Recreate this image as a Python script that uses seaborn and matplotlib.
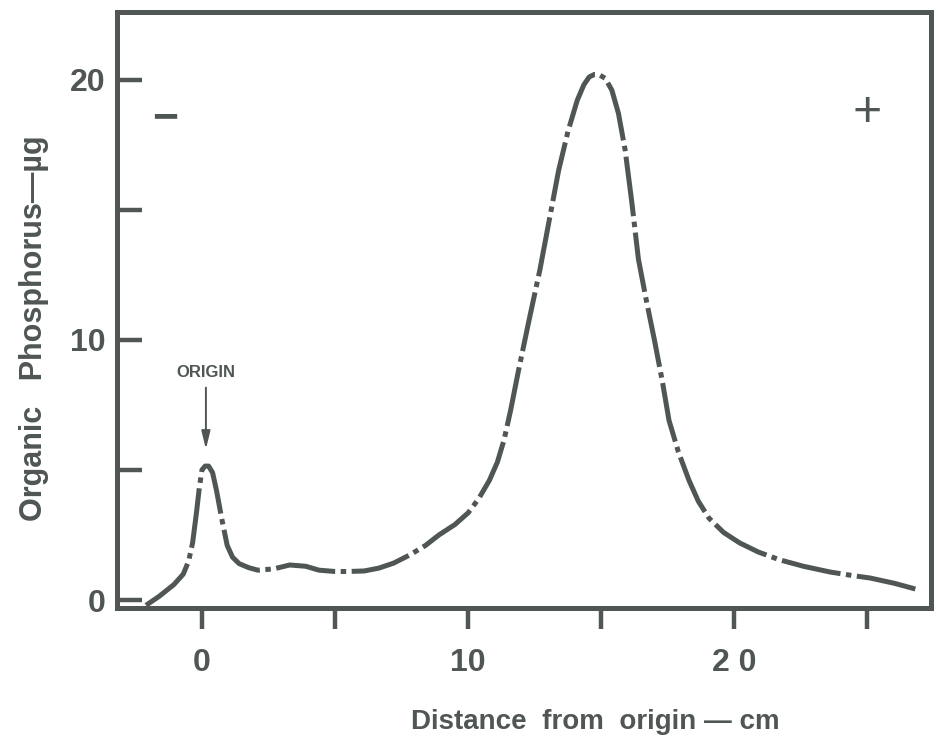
import matplotlib
matplotlib.use("Agg")
import matplotlib.pyplot as plt
import seaborn as sns

# values
distance_cm = [-2.1, -1.6, -1.05, -0.7, -0.5, -0.35, -0.2, -0.1, 0.0, 0.12, 0.25, 0.4,
               0.55, 0.75, 0.95, 1.15, 1.4, 1.75, 2.1, 2.7, 3.3, 3.9, 4.4, 5.0, 5.5,
               6.1, 6.65, 7.2, 7.8, 8.4, 8.9, 9.5, 10.0, 10.4, 10.8, 11.1, 11.35, 11.6,
               11.9, 12.3, 12.7, 13.05, 13.4, 13.75, 14.1, 14.35, 14.55, 14.75, 14.9,
               15.15, 15.4, 15.65, 15.9, 16.15, 16.4, 16.7, 17.0, 17.3, 17.55, 17.9,
               18.3, 18.65, 19.05, 19.6, 20.2, 20.9, 21.7, 22.6, 23.6, 24.4, 25.1,
               26.0, 26.9]
phosphorus_ug = [-0.2, 0.15, 0.6, 1.0, 1.5, 2.2, 3.4, 4.3, 5.0, 5.15, 5.15, 4.9,
                 4.2, 3.1, 2.1, 1.65, 1.4, 1.25, 1.15, 1.2, 1.35, 1.3, 1.15, 1.1, 1.1,
                 1.12, 1.23, 1.42, 1.73, 2.1, 2.5, 2.9, 3.35, 3.9, 4.6, 5.3, 6.15, 7.3,
                 8.85, 10.8, 12.7, 14.6, 16.5, 18.0, 19.2, 19.8, 20.1, 20.2, 20.2,
                 20.05, 19.6, 18.7, 17.3, 15.3, 13.1, 11.5, 10.0, 8.4, 6.9, 5.7,
                 4.6, 3.8, 3.15, 2.6, 2.2, 1.85, 1.55, 1.3, 1.08, 0.95, 0.85,
                 0.65, 0.4]

x_major = [0, 10, 20]
x_minor = [5, 15, 25]
y_major = [0, 10, 20]
y_minor = [5, 15]

ink = "#4f5654"

sns.set_style("white")
plt.rcParams["font.family"] = ["Liberation Sans", "DejaVu Sans"]

fig = plt.figure(figsize=(9.34, 7.45), dpi=100)
ax = fig.add_axes([0.125, 0.184, 0.872, 0.800])

sns.lineplot(x=distance_cm, y=phosphorus_ug, ax=ax, color=ink, linewidth=3.6,
             sort=False, estimator=None)
ax.lines[0].set_dashes((12, 1.1, 1.1, 1.1))

ax.set_xlim(-3.2, 27.4)
ax.set_ylim(-0.3, 22.6)

for s in ax.spines.values():
    s.set_color(ink)
    s.set_linewidth(3.6)

ax.set_xticks(x_major)
ax.set_xticks(x_minor, minor=True)
ax.set_xticklabels(["0", "10", "2 0"])
ax.set_yticks(y_major)
ax.set_yticks(y_minor, minor=True)
ax.set_yticklabels(["0", "10", "20"])

ax.tick_params(axis="x", which="both", direction="out", length=15, width=3.2,
               color=ink, labelsize=23, labelcolor=ink, pad=14, bottom=True)
ax.tick_params(axis="y", which="both", direction="in", length=18, width=3.2,
               color=ink, labelsize=23, labelcolor=ink, pad=8, left=True)
for lab in ax.get_xticklabels() + ax.get_yticklabels():
    lab.set_fontweight("bold")

ax.set_xlabel("Distance  from  origin — cm", fontsize=20, fontweight="bold",
              color=ink)
ax.xaxis.set_label_coords(0.588, -0.17)
ax.set_ylabel("Organic   Phosphorus—µg", fontsize=22, fontweight="bold",
              color=ink)
ax.yaxis.set_label_coords(-0.083, 0.47)

ax.text(-1.4, 18.5, "−", fontsize=32, fontweight="bold", color=ink,
        ha="center", va="center")
ax.text(25.0, 18.7, "+", fontsize=36, color=ink, ha="center", va="center")
ax.annotate("ORIGIN", xy=(0.15, 5.8), xytext=(0.15, 8.45), ha="center",
            va="bottom", fontsize=12, fontweight="bold", color=ink,
            arrowprops=dict(arrowstyle="-|>,head_length=0.9,head_width=0.22",
                            color=ink, lw=1.4, shrinkA=3, shrinkB=0))

fig.savefig("out.png", dpi=100)
